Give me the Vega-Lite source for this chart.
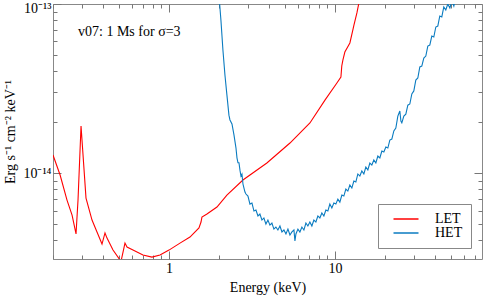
{
  "$schema": "https://vega.github.io/schema/vega-lite/v6.json",
  "width": 429,
  "height": 255,
  "autosize": {"type": "none"},
  "padding": {"left": 53, "top": 4, "right": 2, "bottom": 37},
  "background": "white",
  "config": {
    "font": "Liberation Serif",
    "view": {"stroke": "#888888", "strokeWidth": 1},
    "axis": {"grid": false, "domain": false, "tickColor": "#777777", "labelFont": "Liberation Serif", "titleFont": "Liberation Serif", "labelColor": "#000000", "titleColor": "#000000", "titleFontWeight": "normal"}
  },
  "resolve": {"scale": {"x": "independent", "y": "independent"}},
  "layer": [
    {
      "data": {
        "values": [
          {"detector": "LET", "energy": 0.200, "flux": 1.278e-14},
          {"detector": "LET", "energy": 0.2207, "flux": 9.73e-15},
          {"detector": "LET", "energy": 0.2429, "flux": 6.92e-15},
          {"detector": "LET", "energy": 0.2606, "flux": 5.64e-15},
          {"detector": "LET", "energy": 0.2753, "flux": 4.36e-15},
          {"detector": "LET", "energy": 0.283, "flux": 6.92e-15},
          {"detector": "LET", "energy": 0.2951, "flux": 1.897e-14},
          {"detector": "LET", "energy": 0.3162, "flux": 7.11e-15},
          {"detector": "LET", "energy": 0.3437, "flux": 5.27e-15},
          {"detector": "LET", "energy": 0.3683, "flux": 4.48e-15},
          {"detector": "LET", "energy": 0.3948, "flux": 3.80e-15},
          {"detector": "LET", "energy": 0.4115, "flux": 4.42e-15},
          {"detector": "LET", "energy": 0.4232, "flux": 4.12e-15},
          {"detector": "LET", "energy": 0.4599, "flux": 3.50e-15},
          {"detector": "LET", "energy": 0.514, "flux": 3.0e-15},
          {"detector": "LET", "energy": 0.543, "flux": 3.85e-15},
          {"detector": "LET", "energy": 0.5585, "flux": 3.65e-15},
          {"detector": "LET", "energy": 0.6068, "flux": 3.50e-15},
          {"detector": "LET", "energy": 0.697, "flux": 3.27e-15},
          {"detector": "LET", "energy": 0.790, "flux": 3.18e-15},
          {"detector": "LET", "energy": 0.883, "flux": 3.27e-15},
          {"detector": "LET", "energy": 1.0, "flux": 3.50e-15},
          {"detector": "LET", "energy": 1.165, "flux": 3.85e-15},
          {"detector": "LET", "energy": 1.338, "flux": 4.18e-15},
          {"detector": "LET", "energy": 1.516, "flux": 4.73e-15},
          {"detector": "LET", "energy": 1.56, "flux": 5.13e-15},
          {"detector": "LET", "energy": 1.58, "flux": 5.49e-15},
          {"detector": "LET", "energy": 1.694, "flux": 5.72e-15},
          {"detector": "LET", "energy": 1.946, "flux": 6.29e-15},
          {"detector": "LET", "energy": 2.234, "flux": 7.41e-15},
          {"detector": "LET", "energy": 2.791, "flux": 9.09e-15},
          {"detector": "LET", "energy": 3.89, "flux": 1.146e-14},
          {"detector": "LET", "energy": 5.36, "flux": 1.505e-14},
          {"detector": "LET", "energy": 7.07, "flux": 1.977e-14},
          {"detector": "LET", "energy": 8.71, "flux": 2.70e-14},
          {"detector": "LET", "energy": 10.28, "flux": 3.41e-14},
          {"detector": "LET", "energy": 10.87, "flux": 3.70e-14},
          {"detector": "LET", "energy": 11.0, "flux": 4.3e-14},
          {"detector": "LET", "energy": 11.17, "flux": 4.66e-14},
          {"detector": "LET", "energy": 11.48, "flux": 5.20e-14},
          {"detector": "LET", "energy": 12.31, "flux": 5.88e-14},
          {"detector": "LET", "energy": 12.83, "flux": 7.02e-14},
          {"detector": "LET", "energy": 13.02, "flux": 7.51e-14},
          {"detector": "LET", "energy": 13.57, "flux": 8.85e-14},
          {"detector": "LET", "energy": 13.95, "flux": 1.014e-13},
          {"detector": "LET", "energy": 14.3, "flux": 1.15e-13},
          {"detector": "HET", "energy": 2.00, "flux": 1.13e-13},
          {"detector": "HET", "energy": 2.056, "flux": 8.04e-14},
          {"detector": "HET", "energy": 2.114, "flux": 5.34e-14},
          {"detector": "HET", "energy": 2.174, "flux": 3.80e-14},
          {"detector": "HET", "energy": 2.235, "flux": 2.89e-14},
          {"detector": "HET", "energy": 2.298, "flux": 2.20e-14},
          {"detector": "HET", "energy": 2.331, "flux": 2.06e-14},
          {"detector": "HET", "energy": 2.397, "flux": 1.95e-14},
          {"detector": "HET", "energy": 2.464, "flux": 1.68e-14},
          {"detector": "HET", "energy": 2.533, "flux": 1.41e-14},
          {"detector": "HET", "energy": 2.569, "flux": 1.23e-14},
          {"detector": "HET", "energy": 2.605, "flux": 1.15e-14},
          {"detector": "HET", "energy": 2.641, "flux": 1.15e-14},
          {"detector": "HET", "energy": 2.678, "flux": 1.04e-14},
          {"detector": "HET", "energy": 2.715, "flux": 9.59e-15},
          {"detector": "HET", "energy": 2.753, "flux": 9.85e-15},
          {"detector": "HET", "energy": 2.792, "flux": 8.61e-15},
          {"detector": "HET", "energy": 2.831, "flux": 8.15e-15},
          {"detector": "HET", "energy": 2.870, "flux": 7.72e-15},
          {"detector": "HET", "energy": 2.910, "flux": 7.51e-15},
          {"detector": "HET", "energy": 2.992, "flux": 7.31e-15},
          {"detector": "HET", "energy": 3.076, "flux": 6.55e-15},
          {"detector": "HET", "energy": 3.163, "flux": 6.64e-15},
          {"detector": "HET", "energy": 3.252, "flux": 5.96e-15},
          {"detector": "HET", "energy": 3.343, "flux": 6.04e-15},
          {"detector": "HET", "energy": 3.437, "flux": 5.57e-15},
          {"detector": "HET", "energy": 3.532, "flux": 5.72e-15},
          {"detector": "HET", "energy": 3.632, "flux": 5.27e-15},
          {"detector": "HET", "energy": 3.734, "flux": 5.42e-15},
          {"detector": "HET", "energy": 3.839, "flux": 4.99e-15},
          {"detector": "HET", "energy": 3.947, "flux": 5.27e-15},
          {"detector": "HET", "energy": 4.058, "flux": 4.92e-15},
          {"detector": "HET", "energy": 4.172, "flux": 5.06e-15},
          {"detector": "HET", "energy": 4.289, "flux": 4.66e-15},
          {"detector": "HET", "energy": 4.410, "flux": 4.79e-15},
          {"detector": "HET", "energy": 4.534, "flux": 4.60e-15},
          {"detector": "HET", "energy": 4.664, "flux": 4.86e-15},
          {"detector": "HET", "energy": 4.795, "flux": 4.48e-15},
          {"detector": "HET", "energy": 4.930, "flux": 4.60e-15},
          {"detector": "HET", "energy": 5.069, "flux": 4.36e-15},
          {"detector": "HET", "energy": 5.211, "flux": 4.66e-15},
          {"detector": "HET", "energy": 5.358, "flux": 4.30e-15},
          {"detector": "HET", "energy": 5.508, "flux": 4.48e-15},
          {"detector": "HET", "energy": 5.663, "flux": 4.60e-15},
          {"detector": "HET", "energy": 5.742, "flux": 3.97e-15},
          {"detector": "HET", "energy": 5.823, "flux": 4.36e-15},
          {"detector": "HET", "energy": 5.986, "flux": 4.66e-15},
          {"detector": "HET", "energy": 6.152, "flux": 4.48e-15},
          {"detector": "HET", "energy": 6.325, "flux": 4.79e-15},
          {"detector": "HET", "energy": 6.503, "flux": 4.60e-15},
          {"detector": "HET", "energy": 6.686, "flux": 5.06e-15},
          {"detector": "HET", "energy": 6.874, "flux": 4.86e-15},
          {"detector": "HET", "energy": 7.066, "flux": 5.13e-15},
          {"detector": "HET", "energy": 7.265, "flux": 4.86e-15},
          {"detector": "HET", "energy": 7.469, "flux": 5.27e-15},
          {"detector": "HET", "energy": 7.679, "flux": 5.13e-15},
          {"detector": "HET", "energy": 7.895, "flux": 5.57e-15},
          {"detector": "HET", "energy": 8.117, "flux": 5.42e-15},
          {"detector": "HET", "energy": 8.345, "flux": 5.80e-15},
          {"detector": "HET", "energy": 8.580, "flux": 5.57e-15},
          {"detector": "HET", "energy": 8.821, "flux": 6.04e-15},
          {"detector": "HET", "energy": 9.069, "flux": 5.96e-15},
          {"detector": "HET", "energy": 9.324, "flux": 6.55e-15},
          {"detector": "HET", "energy": 9.586, "flux": 6.21e-15},
          {"detector": "HET", "energy": 9.856, "flux": 6.64e-15},
          {"detector": "HET", "energy": 10.133, "flux": 6.55e-15},
          {"detector": "HET", "energy": 10.418, "flux": 7.01e-15},
          {"detector": "HET", "energy": 10.711, "flux": 6.73e-15},
          {"detector": "HET", "energy": 11.012, "flux": 7.41e-15},
          {"detector": "HET", "energy": 11.322, "flux": 7.31e-15},
          {"detector": "HET", "energy": 11.640, "flux": 8.04e-15},
          {"detector": "HET", "energy": 11.968, "flux": 7.82e-15},
          {"detector": "HET", "energy": 12.305, "flux": 8.49e-15},
          {"detector": "HET", "energy": 12.651, "flux": 8.15e-15},
          {"detector": "HET", "energy": 13.007, "flux": 8.97e-15},
          {"detector": "HET", "energy": 13.373, "flux": 8.85e-15},
          {"detector": "HET", "energy": 13.749, "flux": 9.87e-15},
          {"detector": "HET", "energy": 14.136, "flux": 9.60e-15},
          {"detector": "HET", "energy": 14.534, "flux": 1.028e-14},
          {"detector": "HET", "energy": 14.943, "flux": 9.87e-15},
          {"detector": "HET", "energy": 15.363, "flux": 1.085e-14},
          {"detector": "HET", "energy": 15.795, "flux": 1.042e-14},
          {"detector": "HET", "energy": 16.24, "flux": 1.146e-14},
          {"detector": "HET", "energy": 16.697, "flux": 1.115e-14},
          {"detector": "HET", "energy": 17.167, "flux": 1.194e-14},
          {"detector": "HET", "energy": 17.650, "flux": 1.146e-14},
          {"detector": "HET", "energy": 18.146, "flux": 1.260e-14},
          {"detector": "HET", "energy": 18.657, "flux": 1.227e-14},
          {"detector": "HET", "energy": 19.182, "flux": 1.350e-14},
          {"detector": "HET", "energy": 19.722, "flux": 1.331e-14},
          {"detector": "HET", "energy": 20.277, "flux": 1.425e-14},
          {"detector": "HET", "energy": 20.847, "flux": 1.406e-14},
          {"detector": "HET", "energy": 21.433, "flux": 1.568e-14},
          {"detector": "HET", "energy": 22.036, "flux": 1.589e-14},
          {"detector": "HET", "energy": 22.656, "flux": 1.773e-14},
          {"detector": "HET", "energy": 23.293, "flux": 1.847e-14},
          {"detector": "HET", "energy": 23.948, "flux": 2.17e-14},
          {"detector": "HET", "energy": 24.622, "flux": 2.33e-14},
          {"detector": "HET", "energy": 24.99, "flux": 2.03e-14},
          {"detector": "HET", "energy": 25.315, "flux": 1.98e-14},
          {"detector": "HET", "energy": 26.027, "flux": 2.17e-14},
          {"detector": "HET", "energy": 26.759, "flux": 2.23e-14},
          {"detector": "HET", "energy": 27.511, "flux": 2.52e-14},
          {"detector": "HET", "energy": 28.285, "flux": 2.56e-14},
          {"detector": "HET", "energy": 29.081, "flux": 2.94e-14},
          {"detector": "HET", "energy": 29.899, "flux": 3.06e-14},
          {"detector": "HET", "energy": 30.740, "flux": 3.55e-14},
          {"detector": "HET", "energy": 31.604, "flux": 3.65e-14},
          {"detector": "HET", "energy": 32.49, "flux": 4.24e-14},
          {"detector": "HET", "energy": 33.40, "flux": 4.29e-14},
          {"detector": "HET", "energy": 34.34, "flux": 4.79e-14},
          {"detector": "HET", "energy": 35.31, "flux": 4.92e-14},
          {"detector": "HET", "energy": 36.30, "flux": 5.64e-14},
          {"detector": "HET", "energy": 37.32, "flux": 5.72e-14},
          {"detector": "HET", "energy": 38.37, "flux": 6.46e-14},
          {"detector": "HET", "energy": 39.45, "flux": 6.38e-14},
          {"detector": "HET", "energy": 40.56, "flux": 7.31e-14},
          {"detector": "HET", "energy": 41.70, "flux": 7.41e-14},
          {"detector": "HET", "energy": 42.87, "flux": 8.49e-14},
          {"detector": "HET", "energy": 44.08, "flux": 8.38e-14},
          {"detector": "HET", "energy": 45.32, "flux": 9.60e-14},
          {"detector": "HET", "energy": 46.59, "flux": 9.22e-14},
          {"detector": "HET", "energy": 47.90, "flux": 1.0e-13},
          {"detector": "HET", "energy": 49.3, "flux": 9.47e-14},
          {"detector": "HET", "energy": 50.7, "flux": 1.042e-13},
          {"detector": "HET", "energy": 52.1, "flux": 9.73e-14},
          {"detector": "HET", "energy": 53.6, "flux": 1.1e-13}
        ]
      },
      "mark": {"type": "line", "clip": true, "strokeWidth": 1.1},
      "encoding": {
        "x": {
          "field": "energy", "type": "quantitative",
          "scale": {"type": "log", "domain": [0.2, 77], "nice": false},
          "axis": {
            "orient": "bottom",
            "title": "Energy (keV)",
            "titleFontSize": 14,
            "titlePadding": 5,
            "labelFontSize": 14,
            "labelPadding": 10,
            "values": [0.2, 0.3, 0.4, 0.5, 0.6, 0.7, 0.8, 0.9, 1, 2, 3, 4, 5, 6, 7, 8, 9, 10, 20, 30, 40, 50, 60, 70],
            "labelExpr": "datum.value == 1 ? '1' : (datum.value == 10 ? '10' : '')",
            "tickSize": {"condition": {"test": "datum.value == 1 || datum.value == 10", "value": -8}, "value": -4}
          }
        },
        "y": {
          "field": "flux", "type": "quantitative",
          "scale": {"type": "log", "domain": [3.1e-15, 1e-13], "nice": false},
          "axis": {
            "orient": "left",
            "title": "Erg s⁻¹ cm⁻² keV⁻¹",
            "titleFontSize": 14,
            "titlePadding": 5,
            "labelFontSize": 14,
            "labelPadding": 10,
            "values": [4e-15, 5e-15, 6e-15, 7e-15, 8e-15, 9e-15, 1e-14, 2e-14, 3e-14, 4e-14, 5e-14, 6e-14, 7e-14, 8e-14, 9e-14, 1e-13],
            "labelExpr": "datum.value > 9.9e-14 ? '10⁻¹³' : (datum.value > 9.9e-15 && datum.value < 1.1e-14 ? '10⁻¹⁴' : '')",
            "labelOffset": {"condition": {"test": "datum.value > 9.9e-14", "value": 4}, "value": 0},
            "tickSize": {"condition": {"test": "datum.value > 9.9e-14 || (datum.value > 9.9e-15 && datum.value < 1.1e-14)", "value": -8}, "value": -4}
          }
        },
        "color": {
          "field": "detector", "type": "nominal",
          "scale": {"domain": ["LET", "HET"], "range": ["#ff0000", "#0a7bc0"]},
          "legend": {
            "orient": "none", "legendX": 325, "legendY": 200,
            "title": null,
            "strokeColor": "#888888", "fillColor": "white",
            "padding": 8,
            "symbolType": "M-2.5,0H2.5",
            "symbolSize": 100,
            "symbolStrokeWidth": 1.5,
            "symbolOffset": 13,
            "labelOffset": 22,
            "labelFont": "Liberation Serif",
            "labelFontSize": 14,
            "rowPadding": 0
          }
        }
      }
    },
    {
      "data": {"values": [{"energy": 0.283, "flux": 6.47e-14, "label": "v07: 1 Ms for σ=3"}]},
      "mark": {"type": "text", "align": "left", "baseline": "alphabetic", "font": "Liberation Serif", "fontSize": 14, "color": "#000000"},
      "encoding": {
        "x": {
          "field": "energy", "type": "quantitative",
          "scale": {"type": "log", "domain": [0.2, 77], "nice": false},
          "axis": {
            "orient": "top", "title": null, "labels": false,
            "values": [0.2, 0.3, 0.4, 0.5, 0.6, 0.7, 0.8, 0.9, 1, 2, 3, 4, 5, 6, 7, 8, 9, 10, 20, 30, 40, 50, 60, 70],
            "tickSize": {"condition": {"test": "datum.value == 1 || datum.value == 10", "value": -8}, "value": -4}
          }
        },
        "y": {
          "field": "flux", "type": "quantitative",
          "scale": {"type": "log", "domain": [3.1e-15, 1e-13], "nice": false},
          "axis": {
            "orient": "right", "title": null, "labels": false,
            "values": [4e-15, 5e-15, 6e-15, 7e-15, 8e-15, 9e-15, 1e-14, 2e-14, 3e-14, 4e-14, 5e-14, 6e-14, 7e-14, 8e-14, 9e-14, 1e-13],
            "tickSize": {"condition": {"test": "datum.value > 9.9e-14 || (datum.value > 9.9e-15 && datum.value < 1.1e-14)", "value": -8}, "value": -4}
          }
        },
        "text": {"field": "label", "type": "nominal"}
      }
    }
  ]
}
